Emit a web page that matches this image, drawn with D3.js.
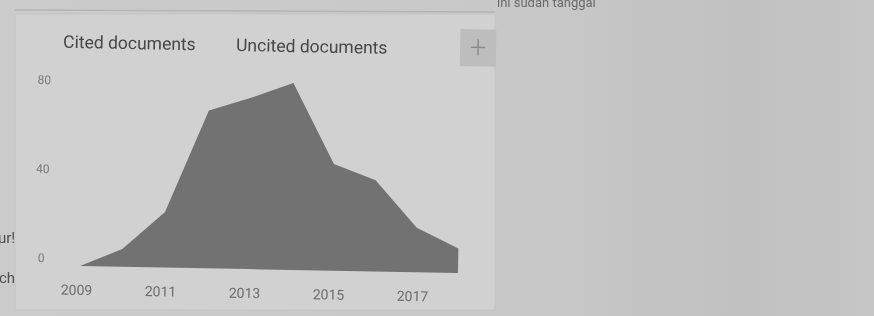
<!DOCTYPE html>
<html><head><meta charset="utf-8">
<script src="https://cdn.jsdelivr.net/npm/d3@7/dist/d3.min.js"></script>
<style>html,body{margin:0;padding:0;background:#c7c7c7;overflow:hidden}</style>
</head><body>
<svg id="c" width="874" height="316"></svg>
<script>
const years = [2009, 2010, 2011, 2012, 2013, 2014, 2015, 2016, 2017, 2018];
const citedValues = [0, 8, 25, 71, 77, 84, 48, 41, 20, 11];
const yTicks = [0, 40, 80];
const xTicks = [2009, 2011, 2013, 2015, 2017];
const legendLabels = ["Cited documents", "Uncited documents"];

const svg = d3.select("#c");
const defs = svg.append("defs");
defs.append("filter").attr("id","blur").append("feGaussianBlur").attr("stdDeviation",0.6);
const lg = defs.append("linearGradient").attr("id","bg").attr("x1","0").attr("x2","1");
lg.append("stop").attr("offset","0").attr("stop-color","#cbcbcb");
lg.append("stop").attr("offset","0.6").attr("stop-color","#c8c8c8");
lg.append("stop").attr("offset","0.85").attr("stop-color","#c1c1c1");
lg.append("stop").attr("offset","1").attr("stop-color","#c6c6c6");

const root = svg.append("g").attr("filter","url(#blur)");
root.append("rect").attr("width",874).attr("height",316).attr("fill","url(#bg)");

// previous card bottom edge
root.append("line").attr("x1",15).attr("x2",495).attr("y1",10).attr("y2",12)
  .attr("stroke","#b4b4b4").attr("stroke-width",1.5);
// card
root.append("rect").attr("x",15).attr("y",14).attr("width",480).attr("height",296)
  .attr("fill","#d1d1d1").attr("stroke","#c4c4c4");

// side texts (partly cut in the photo)
root.append("text").attr("x",497).attr("y",7).attr("font-family","Roboto, sans-serif")
  .attr("font-size",13).attr("fill","#6a6a6a").text("ini sudah tanggal");
root.append("text").attr("x",-2).attr("y",243).attr("font-family","Roboto, sans-serif")
  .attr("font-size",15).attr("fill","#505050").text("ur!");
root.append("text").attr("x",-1).attr("y",283).attr("font-family","Roboto, sans-serif")
  .attr("font-size",15).attr("fill","#505050").text("ch");

const g = root.append("g").attr("transform","rotate(1.06,80,266)");

const x = d3.scaleLinear().domain([2009, 2018]).range([80, 458]);
const y = d3.scaleLinear().domain([0, 80]).range([266, 88]);

const area = d3.area().x((d,i)=>x(years[i])).y0(y(0)).y1(d=>y(d));
g.append("path").datum(citedValues).attr("d", area).attr("fill","#727272");

// y labels
g.selectAll(".yl").data(yTicks).enter().append("text")
  .attr("x",41).attr("y",d=>y(d)-7.5).attr("dy","0.35em").attr("text-anchor","middle")
  .attr("font-family","Roboto, sans-serif").attr("font-size",12).attr("fill","#7a7a7a")
  .text(d=>d);

// x labels
g.selectAll(".xl").data(xTicks).enter().append("text")
  .attr("x",d=>x(d)-3).attr("y",y(0)+24).attr("dy","0.35em").attr("text-anchor","middle")
  .attr("font-family","Roboto, sans-serif").attr("font-size",14).attr("fill","#6e6e6e")
  .text(d=>d);

// legend
const lx = [59, 232];
g.selectAll(".lg").data(legendLabels).enter().append("text")
  .attr("x",(d,i)=>lx[i]).attr("y",42).attr("dy","0.35em")
  .attr("font-family","Roboto, sans-serif").attr("font-size",17.5).attr("fill","#464646")
  .text(d=>d);

// plus button
g.append("rect").attr("x",456).attr("y",22).attr("width",36).attr("height",37)
  .attr("fill","#bdbdbd");
g.append("path").attr("d","M474,32 V48 M467,40 H481").attr("stroke","#8a8a8a").attr("stroke-width",1.5);
</script>
</body></html>
